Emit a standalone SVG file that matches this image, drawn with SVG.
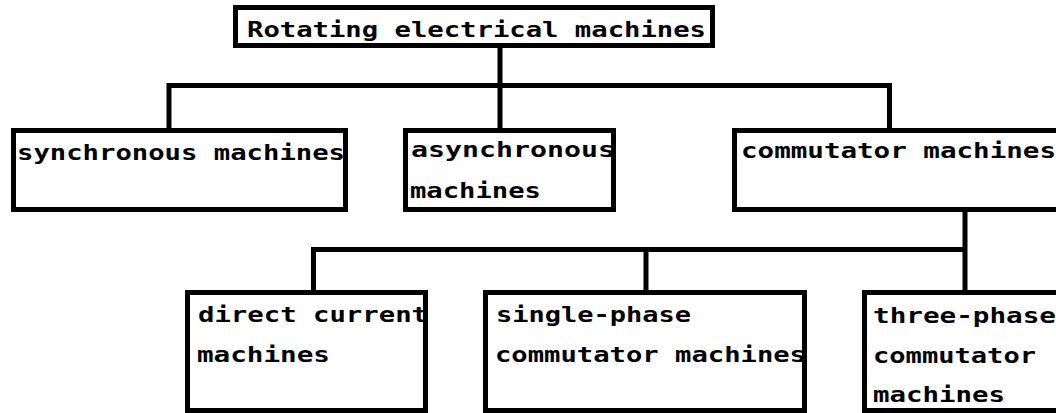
<svg xmlns="http://www.w3.org/2000/svg" width="1056" height="413" viewBox="0 0 1056 413">
<style>
.box{fill:#fff;stroke:#000;stroke-width:5}
.ln{fill:none;stroke:#000;stroke-width:5;stroke-linecap:square}
text{font-family:"DejaVu Sans Mono","Liberation Mono",monospace;font-size:22px;font-weight:bold;fill:#000}
</style>
<rect width="1056" height="413" fill="#fff"/>
<g id="connectors">
<path class="ln" d="M500,48 V85.5 M169,128 V85.5 H889.5 V128 M500,85.5 V128"/>
<path class="ln" d="M965,212 V249.5 M313.5,290 V249.5 H965 V290 M646,249.5 V290"/>
</g>
<g id="n-root">
<rect class="box" x="235.5" y="7.5" width="477" height="38"/>
<text x="247" y="37" textLength="459" lengthAdjust="spacingAndGlyphs">Rotating electrical machines</text>
</g>
<g id="n-sync">
<rect class="box" x="13.5" y="130.5" width="332" height="79"/>
<text x="17" y="160" textLength="328" lengthAdjust="spacingAndGlyphs">synchronous machines</text>
</g>
<g id="n-async">
<rect class="box" x="405.5" y="130.5" width="208" height="79"/>
<text x="411" y="157" textLength="204" lengthAdjust="spacingAndGlyphs">asynchronous</text>
<text x="410" y="198" textLength="131" lengthAdjust="spacingAndGlyphs">machines</text>
</g>
<g id="n-comm">
<rect class="box" x="734.5" y="130.5" width="330" height="79"/>
<text x="741" y="158" textLength="315" lengthAdjust="spacingAndGlyphs">commutator machines</text>
</g>
<g id="n-dc">
<rect class="box" x="187.5" y="292.5" width="238" height="118"/>
<text x="198" y="322" textLength="230" lengthAdjust="spacingAndGlyphs">direct current</text>
<text x="197" y="362" textLength="133" lengthAdjust="spacingAndGlyphs">machines</text>
</g>
<g id="n-single">
<rect class="box" x="485.5" y="292.5" width="319" height="118"/>
<text x="496" y="322" textLength="195" lengthAdjust="spacingAndGlyphs">single-phase</text>
<text x="495" y="362" textLength="311" lengthAdjust="spacingAndGlyphs">commutator machines</text>
</g>
<g id="n-three">
<rect class="box" x="864.5" y="292.5" width="200" height="118"/>
<text x="873" y="323" textLength="183" lengthAdjust="spacingAndGlyphs">three-phase</text>
<text x="873" y="363" textLength="163" lengthAdjust="spacingAndGlyphs">commutator</text>
<text x="873" y="402" textLength="132" lengthAdjust="spacingAndGlyphs">machines</text>
</g>
</svg>
